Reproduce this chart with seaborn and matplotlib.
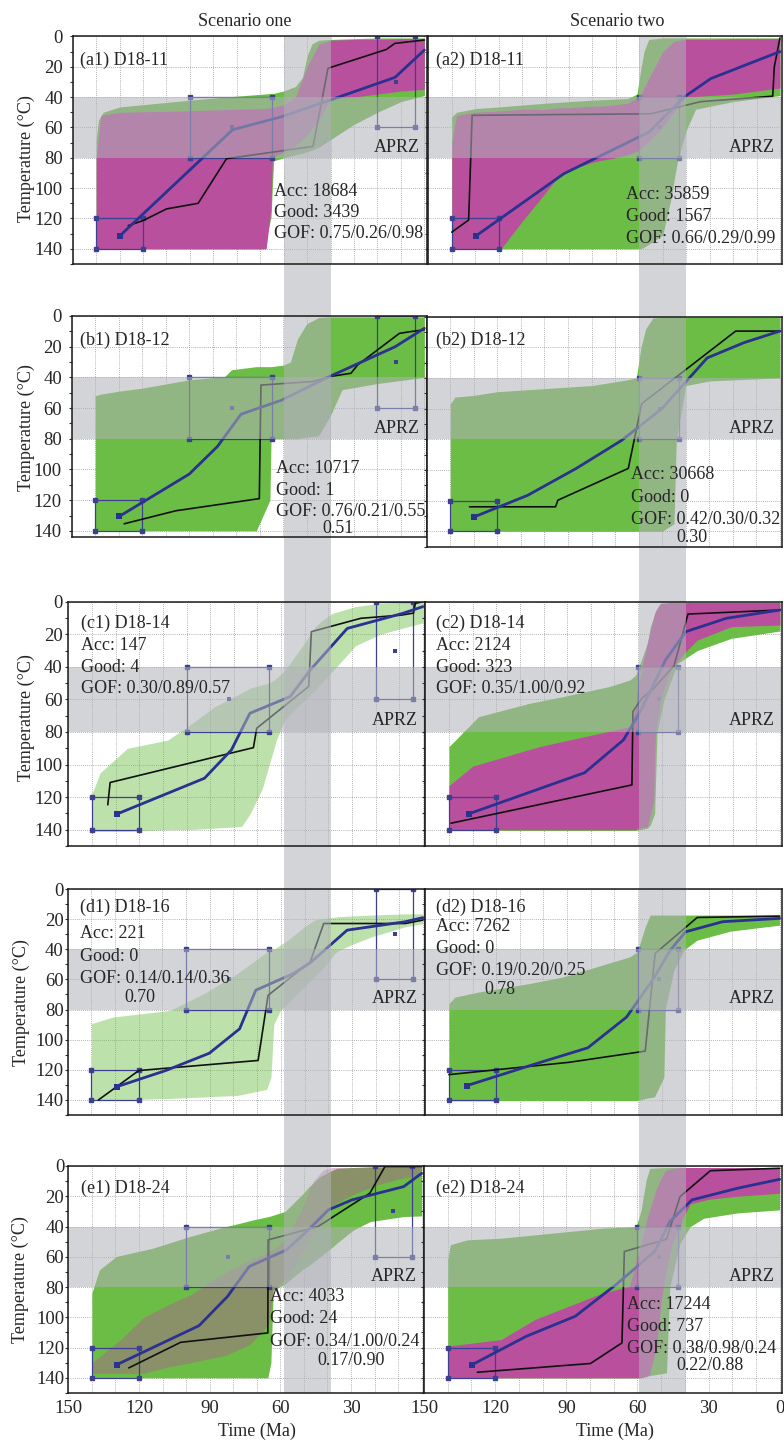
import matplotlib
matplotlib.use("Agg")
import matplotlib.pyplot as plt
import matplotlib.transforms as mtransforms
from matplotlib.patches import Rectangle
from matplotlib.ticker import MultipleLocator, FixedLocator
import seaborn as sns

sns.set_theme(style="white")
plt.rcParams["font.family"] = ["Liberation Serif", "DejaVu Serif"]

# ---------------------------------------------------------------------------
# values: time in Ma, temperature in deg C
# green = acceptable paths envelope, pink = good paths envelope,
# best = best-fit path (black), mean = weighted mean path (blue)
# ---------------------------------------------------------------------------
a1_green_t = [140, 139, 137, 130, 120, 100, 85, 68.5, 65.4, 64.3, 60, 55, 52, 50, 48, 45, 40, 30, 20, 10, 0]
a1_green_top = [68, 55, 50, 46.5, 45, 42, 40, 38, 37.6, 37.5, 36, 33, 27, 13, 5, 2.5, 2, 1.5, 1, 1, 1]
a1_green_bot = [140, 140, 140, 140, 140, 140, 140, 140, 119, 82, 80, 78, 77, 76, 75, 73, 68, 58, 50, 43, 39]
a1_pink_t = [140, 138, 130, 100, 80, 67.5, 65.5, 64.8, 60, 55, 50, 45, 40, 30, 20, 10, 0]
a1_pink_top = [80, 52, 50, 49, 48, 47.5, 47, 47, 45, 40, 20, 5, 2.5, 2, 2, 1.5, 1.5]
a1_pink_bot = [140, 140, 140, 140, 140, 140, 115, 80, 76, 72, 65, 55, 41, 40, 38, 36, 35]
a1_best_t = [126.3, 120, 110, 96.5, 84.4, 47.5, 41.1, 16.2, 12.6, 0]
a1_best_T = [124.7, 121.4, 113.7, 110, 80.6, 72.5, 21, 8.6, 4.6, 2.4]
a1_mean_t = [129.8, 81.8, 61, 39.5, 12.5, 0]
a1_mean_T = [131.3, 61.5, 53, 41.6, 27, 9]

a2_green_t = [140, 138, 130, 120, 100, 80, 65, 61, 59.4, 58, 56, 50, 46.6, 43.7, 40, 36, 20, 0]
a2_green_top = [53, 50, 47.6, 46.5, 44, 42, 41, 38, 22, 10, 2, 1, 1, 1, 1, 1, 1, 1]
a2_green_bot = [140, 140, 140, 140, 140, 140, 140, 140, 140, 139, 137, 131, 108, 82, 62, 48, 43, 39]
a2_pink_t = [140, 138, 130, 119, 110, 100, 93.6, 90, 80, 76.5, 70, 65, 60, 55, 50, 45, 40, 30, 20, 10, 0]
a2_pink_top = [70, 52, 50, 49, 48, 48, 47, 47, 46, 46, 45, 44, 40, 25, 10, 3, 2, 2, 1.5, 1.5, 1.5]
a2_pink_bot = [140, 140, 140, 140, 122, 103, 90.5, 88, 83, 81.7, 80, 78, 75, 68, 60, 50, 40, 39, 38, 36, 34]
a2_best_t = [140, 132.8, 131.3, 55.1, 33.8, 3.1, 2.4, 0]
a2_best_T = [129, 121, 52, 51, 43, 39.4, 20, 1]
a2_mean_t = [129.5, 92.2, 55.8, 40.9, 29.5, 0]
a2_mean_T = [131.3, 90.5, 63, 40, 27.8, 10]

b1_green_t = [140, 138, 130, 120, 100, 85, 82, 71.5, 65.7, 65.2, 60, 57, 54, 50, 45, 40, 35, 20, 10, 0]
b1_green_top = [52, 51, 49, 47, 41.6, 39.5, 35, 33, 33, 33, 32, 30, 15, 5, 1, 0.5, 0.5, 0.5, 0.5, 0.5]
b1_green_bot = [140, 140, 140, 140, 140, 140, 140, 140, 120, 80, 80, 80, 80, 79, 78, 65, 48, 44, 42, 40]
b1_best_t = [127.7, 105.7, 70.2, 69.5, 47.5, 40.4, 31.2, 28.4, 10.6, 5, 0]
b1_best_T = [135.4, 126.9, 119, 45, 42.7, 39.5, 37.3, 31.9, 11.3, 10, 9]
b1_mean_t = [129.8, 100, 88, 78, 61, 40.4, 12.4, 0]
b1_mean_T = [130.6, 103, 85, 64, 55, 39.5, 20, 8]

b2_green_t = [140, 138, 130, 120, 100, 80, 66, 61, 59, 57, 54, 50, 45, 44, 40, 30, 0]
b2_green_top = [57, 52.5, 51.4, 49, 47, 45, 41.6, 40, 20, 8, 1, 0.5, 0.5, 0.5, 0.5, 0.5, 0.5]
b2_green_bot = [140, 140, 140, 140, 140, 140, 140, 140, 140, 140, 140, 140, 135, 80, 45, 42, 40]
b2_best_t = [131.8, 95.3, 94.3, 64.4, 58.7, 18.8, 0]
b2_best_T = [124, 124, 119.7, 99, 56.8, 9.5, 9.5]
b2_mean_t = [129.9, 107.1, 86.5, 67.2, 50.1, 30.9, 15.2, 0]
b2_mean_T = [130.6, 116.5, 99, 80.7, 60, 27, 17, 9.5]

c1_green_t = [140, 136.5, 125, 108, 99.5, 88, 76.7, 73, 68, 65, 62, 58.3, 51.2, 45.5, 43, 38.4, 28.5, 18, 8, 0]
c1_green_top = [118, 105, 90, 85, 76.7, 64.4, 56, 53, 51, 50, 47, 42, 27.6, 15.3, 12, 7.2, 3, 1, 0.5, 0.5]
c1_green_bot = [141, 141, 141, 140, 140, 139, 138, 130, 115, 100, 85, 72, 62, 54, 50, 43, 27, 20, 16, 13]
c1_best_t = [133.3, 132.3, 71.7, 70.3, 48.3, 47.2, 26.3, 9, 4, 3.2, 0]
c1_best_T = [124.7, 111, 89.6, 77.7, 52, 18.4, 10.2, 8.2, 7, 1, 0]
c1_mean_t = [129.3, 92.4, 81, 73.2, 56.2, 47.7, 32, 8.6, 0]
c1_mean_T = [130.3, 108.4, 91, 68.5, 58.3, 42, 16.4, 7.2, 3]

c2_green_t = [140, 127.5, 106, 91.8, 72, 63.4, 61, 59.1, 56, 54.8, 53, 52, 50.5, 49, 43.4, 35, 20.6, 0]
c2_green_top = [89, 70.6, 62.4, 58.3, 52, 48, 45, 37.8, 25, 15.3, 8, 4, 1, 1, 1, 1, 1, 1]
c2_green_bot = [140.5, 140.5, 140.5, 140.5, 140.5, 140.5, 140.5, 140, 139, 137, 130, 81, 70, 60, 38, 30, 22.5, 18]
c2_pink_t = [140, 130, 101.8, 63.4, 61, 60.5, 57.7, 56, 53.4, 52.7, 50.5, 46.3, 40.6, 34.9, 20.6, 0]
c2_pink_top = [113, 101, 89, 76.7, 65, 56, 35.8, 25, 9.2, 6, 1, 0.5, 0.5, 0.5, 0.5, 0.5]
c2_pink_bot = [140, 140, 140, 140, 140, 139.5, 138.5, 138, 121.7, 80.8, 60, 42, 31.7, 23.5, 15.3, 14.3]
c2_best_t = [139.1, 62.6, 62.2, 58.4, 53.4, 47.7, 44.8, 38.9, 0]
c2_best_T = [136, 112.5, 67.5, 59.3, 53.2, 44, 39.5, 7.6, 5.1]
c2_mean_t = [131.7, 82.6, 66.2, 59.1, 48.4, 39.8, 22.7, 0]
c2_mean_T = [130.3, 105, 84.9, 67.5, 35.8, 18.4, 10.2, 5.1]

d1_green_t = [140, 131, 106.8, 92.6, 78.4, 66, 64.2, 64, 63, 60, 57.1, 50, 45.7, 43, 37.3, 35.8, 28.7, 21.6, 7.4, 0]
d1_green_top = [89.4, 85, 80.6, 69.5, 56.1, 42, 40.6, 40.4, 40, 37, 34, 25, 20.6, 19.8, 18.7, 18.4, 17.8, 17.3, 16.5, 16.5]
d1_green_bot = [140, 140, 139, 138, 137, 133, 125, 120, 90, 80, 76, 65, 58, 54, 43, 41, 36, 31.7, 25, 23]
d1_best_t = [137, 120, 69.6, 65.4, 47.6, 41.9, 7.4, 0]
d1_best_T = [140, 120.5, 113.8, 70.6, 48.4, 22.9, 22.9, 20.6]
d1_mean_t = [129.2, 108.6, 90.2, 77.4, 70.6, 54.7, 47.6, 32, 7.4, 0]
d1_mean_T = [131.2, 120.5, 109, 92.8, 67.2, 56.1, 49, 27.3, 21.7, 19]

d2_green_t = [140, 137.4, 127.5, 106.1, 91.8, 77.6, 63.4, 60.5, 59.1, 56.9, 54.8, 53, 49, 48.4, 44.8, 40.6, 35, 21, 0]
d2_green_top = [76, 71.7, 68.4, 62.8, 58.4, 51.7, 45, 42, 36, 25, 17.3, 17.3, 17.3, 17.3, 17.3, 17.3, 17.3, 17.3, 17.3]
d2_green_bot = [140.5, 140.5, 140.5, 140.5, 140.5, 140.5, 140.5, 140.5, 140, 139, 138.5, 138, 125, 80, 54, 40.6, 34, 28, 24]
d2_best_t = [140, 89, 56.9, 52.7, 34.9, 0]
d2_best_T = [123.2, 115, 107.6, 42.8, 18.9, 18]
d2_mean_t = [132.4, 103.2, 81.2, 64.8, 53.4, 46.3, 39.8, 24.1, 0]
d2_mean_T = [130.5, 116, 105.4, 85, 59.5, 40.6, 28.4, 21.7, 19.5]

e1_green_t = [140, 136.8, 129.7, 114.1, 98.5, 85.7, 71.5, 65.3, 64, 63, 58, 57.3, 50.2, 48, 43.1, 37.4, 36, 28.9, 21.8, 7.6, 0]
e1_green_top = [84, 68.6, 59.8, 54.3, 46.6, 41.1, 35.6, 33.5, 33, 32.5, 30, 29, 18, 14, 7, 2.5, 1.5, 1, 0.5, 0.5, 0.5]
e1_green_bot = [140, 140, 140, 140, 140, 140, 140, 140, 130, 82, 78, 77, 68, 66, 60, 53, 51, 42.2, 36.7, 33.4, 33]
e1_pink_t = [140, 128, 118, 108, 98, 83, 73, 65, 63, 56, 50, 46, 42, 38, 28, 18, 8, 0]
e1_pink_top = [130, 115, 100, 92, 85, 70, 62, 57, 55, 45, 25, 10, 3, 1, 1, 1, 1, 1]
e1_pink_bot = [137, 137, 137, 133, 130, 125, 118, 105, 82, 72, 55, 44, 35, 26, 18, 12, 8, 6]
e1_best_t = [124.3, 102.3, 65.3, 65.2, 44, 22, 15.6, 0]
e1_best_T = [133.4, 116.5, 110.3, 48.8, 40, 18, 0.4, 0.4]
e1_mean_t = [129.3, 94.5, 82.4, 73.2, 57.3, 48.1, 39.6, 29.6, 7.6, 0]
e1_mean_T = [131.2, 105.5, 86.2, 66.4, 55.4, 42.2, 29, 22.4, 13.6, 4.8]

e2_green_t = [140, 138.9, 131.8, 117.5, 103.3, 89, 74.8, 60.5, 58.4, 56.3, 54.8, 47.7, 47, 46.3, 42, 37.7, 32, 17.8, 0]
e2_green_top = [62, 52, 48.8, 47.7, 45.5, 43.3, 41.1, 40, 29, 9.2, 1.5, 1, 1, 1, 1, 1, 1, 1, 1]
e2_green_bot = [140, 140, 140, 140, 140, 140, 140, 140, 140, 139, 138.5, 136.7, 106, 79.6, 51, 40, 34.5, 31, 29]
e2_pink_t = [140, 117.5, 103.3, 89, 74.8, 63.4, 60, 59, 56, 55, 52, 50, 48, 45, 42, 41, 37.7, 30, 18, 0]
e2_pink_top = [119, 114.7, 101.5, 92.7, 84, 79.6, 60, 55, 35, 30, 15, 8, 3, 1.5, 1, 1, 1, 1, 1, 1]
e2_pink_bot = [140, 140, 140, 140, 140, 140, 140, 140, 139, 138, 120, 90, 70, 50, 40, 35, 25, 22, 20, 18]
e2_best_t = [127.5, 79.8, 66.5, 65.5, 47.7, 42, 29.2, 0]
e2_best_T = [136.3, 130.5, 116.9, 56.5, 48.4, 20.2, 3.1, 1.5]
e2_mean_t = [129.6, 106.8, 86.2, 69.1, 52.7, 46.3, 37, 17.8, 0]
e2_mean_T = [131.2, 112.5, 99.3, 78.5, 56.5, 36.7, 22.4, 14.7, 8.8]

# constraint boxes (time from/to, temperature from/to) and their centre points
left_box_t = [(140, 120), (100, 65), (20, 4)]
left_box_T = [(120, 140), (40, 80), (0, 60)]
left_dot_t = [82, 12]
left_dot_T = [60, 30]
right_box_t = [(140, 120), (60, 43)]
right_box_T = [(120, 140), (40, 80)]
right_dot_t = [51]
right_dot_T = [60]

aprz = (40, 80)
time_window = (40, 60)

names = {"a1": "(a1) D18-11", "a2": "(a2) D18-11", "b1": "(b1) D18-12", "b2": "(b2) D18-12",
         "c1": "(c1) D18-14", "c2": "(c2) D18-14", "d1": "(d1) D18-16", "d2": "(d2) D18-16",
         "e1": "(e1) D18-24", "e2": "(e2) D18-24"}
stats = {
    "a1": ["Acc: 18684", "Good: 3439", "GOF: 0.75/0.26/0.98"],
    "a2": ["Acc: 35859", "Good: 1567", "GOF: 0.66/0.29/0.99"],
    "b1": ["Acc: 10717", "Good: 1", "GOF: 0.76/0.21/0.55"],
    "b2": ["Acc: 30668", "Good: 0", "GOF: 0.42/0.30/0.32"],
    "c1": ["Acc: 147", "Good: 4", "GOF: 0.30/0.89/0.57"],
    "c2": ["Acc: 2124", "Good: 323", "GOF: 0.35/1.00/0.92"],
    "d1": ["Acc: 221", "Good: 0", "GOF: 0.14/0.14/0.36"],
    "d2": ["Acc: 7262", "Good: 0", "GOF: 0.19/0.20/0.25"],
    "e1": ["Acc: 4033", "Good: 24", "GOF: 0.34/1.00/0.24"],
    "e2": ["Acc: 17244", "Good: 737", "GOF: 0.38/0.98/0.24"],
}
stats_more = {"b1": "0.51", "b2": "0.30", "d1": "0.70", "d2": "0.78", "e1": "0.17/0.90", "e2": "0.22/0.88"}

panels = {
    "a1": dict(green=(a1_green_t, a1_green_top, a1_green_bot), pink=(a1_pink_t, a1_pink_top, a1_pink_bot),
               best=(a1_best_t, a1_best_T), mean=(a1_mean_t, a1_mean_T)),
    "a2": dict(green=(a2_green_t, a2_green_top, a2_green_bot), pink=(a2_pink_t, a2_pink_top, a2_pink_bot),
               best=(a2_best_t, a2_best_T), mean=(a2_mean_t, a2_mean_T)),
    "b1": dict(green=(b1_green_t, b1_green_top, b1_green_bot), pink=None,
               best=(b1_best_t, b1_best_T), mean=(b1_mean_t, b1_mean_T)),
    "b2": dict(green=(b2_green_t, b2_green_top, b2_green_bot), pink=None,
               best=(b2_best_t, b2_best_T), mean=(b2_mean_t, b2_mean_T)),
    "c1": dict(green=(c1_green_t, c1_green_top, c1_green_bot), pink=None,
               best=(c1_best_t, c1_best_T), mean=(c1_mean_t, c1_mean_T)),
    "c2": dict(green=(c2_green_t, c2_green_top, c2_green_bot), pink=(c2_pink_t, c2_pink_top, c2_pink_bot),
               best=(c2_best_t, c2_best_T), mean=(c2_mean_t, c2_mean_T)),
    "d1": dict(green=(d1_green_t, d1_green_top, d1_green_bot), pink=None,
               best=(d1_best_t, d1_best_T), mean=(d1_mean_t, d1_mean_T)),
    "d2": dict(green=(d2_green_t, d2_green_top, d2_green_bot), pink=None,
               best=(d2_best_t, d2_best_T), mean=(d2_mean_t, d2_mean_T)),
    "e1": dict(green=(e1_green_t, e1_green_top, e1_green_bot), pink=(e1_pink_t, e1_pink_top, e1_pink_bot),
               best=(e1_best_t, e1_best_T), mean=(e1_mean_t, e1_mean_T)),
    "e2": dict(green=(e2_green_t, e2_green_top, e2_green_bot), pink=(e2_pink_t, e2_pink_top, e2_pink_bot),
               best=(e2_best_t, e2_best_T), mean=(e2_mean_t, e2_mean_T)),
}

# ---------------------------------------------------------------------------
# layout (pixels on the 784 x 1441 canvas) and styles
# ---------------------------------------------------------------------------
W, H = 784, 1441
axes_px = {  # left, right, top, bottom
    "a1": (72.7, 426.7, 36.4, 264), "a2": (428.3, 782.3, 36.4, 264),
    "b1": (71.7, 426.7, 316, 537), "b2": (426.7, 782.3, 316.5, 546.7),
    "c1": (68.3, 425.3, 601.7, 846), "c2": (425.3, 782.3, 601.7, 846),
    "d1": (67.7, 425.3, 889, 1115), "d2": (425.3, 782, 889, 1115),
    "e1": (68.3, 424, 1166, 1393), "e2": (424, 782, 1166, 1393),
}
ybottom = {"b1": 144}
ytick_pad = {"a": 4.5, "b": 4.5, "c": 1.5, "d": 0.5, "e": 0.5}
sparse = {"c1", "d1"}
sparse_pink = {"e1"}

# text anchors in data units (Ma, degC)
name_xy = {"a1": (146.9, 15.6), "a2": (146.7, 15.6), "b1": (146.5, 15.6), "b2": (146, 15.6),
           "c1": (144.8, 13.3), "c2": (145.5, 13), "d1": (144.8, 12.2), "d2": (145.5, 12),
           "e1": (144.8, 14.7), "e2": (145, 14.7)}
stats_xy = {"a1": (64, [102, 116, 130]), "a2": (65.7, [104.4, 119, 133]),
            "b1": (63, [99.5, 113.5, 127.5]), "b2": (63.4, [103, 118, 132]),
            "c1": (144.5, [27, 40.5, 53]), "c2": (145.5, [27, 40.5, 53]),
            "d1": (144.8, [29.5, 45, 59.5]), "d2": (145.5, [25, 39.5, 54]),
            "e1": (64.5, [86, 101, 116]), "e2": (64.5, [91.6, 106, 120.5])}
more_xy = {"b1": (36.7, 138.5), "b2": (37.2, 144), "d1": (119.4, 72), "d2": (118.4, 67),
           "e1": (30, 128.7), "e2": (29.4, 132)}

GREEN = "#6cbd45"
PINK = "#b8509d"
MEAN = "#2b3190"
BEST = "#111111"
BOX = "#3c4091"
BAND = "#b0b2b8"
BAND_ALPHA = 0.55
FS = 13

fig = plt.figure(figsize=(W / 100, H / 100), dpi=100)
fig.patch.set_facecolor("white")


def px_rect(l, r, t, b):
    return [l / W, 1 - b / H, (r - l) / W, (b - t) / H]


axes = {}
for key, (l, r, t, b) in axes_px.items():
    axes[key] = fig.add_axes(px_rect(l, r, t, b))

for key, ax in axes.items():
    row, col = key[0], key[1]
    d = panels[key]

    # envelopes of the modelled paths
    gt, gtop, gbot = d["green"]
    ax.fill_between(gt, gtop, gbot, color=GREEN, lw=0,
                    alpha=0.45 if key in sparse else 1.0, zorder=1)
    if d["pink"] is not None:
        pt, ptop, pbot = d["pink"]
        ax.fill_between(pt, ptop, pbot, color=PINK, lw=0,
                        alpha=0.4 if key in sparse_pink else 1.0, zorder=1.5)

    # constraint boxes
    bt, bT = (left_box_t, left_box_T) if col == "1" else (right_box_t, right_box_T)
    for (t0, t1), (T0, T1) in zip(bt, bT):
        ax.plot([t0, t1, t1, t0, t0], [T0, T0, T1, T1, T0], color=BOX, lw=0.9, zorder=2.5)
        ax.plot([t0, t1, t1, t0], [T0, T0, T1, T1], ls="none", marker="s", ms=2.2,
                color=BOX, zorder=2.5)
    dt, dT = (left_dot_t, left_dot_T) if col == "1" else (right_dot_t, right_dot_T)
    sns.scatterplot(x=dt, y=dT, marker="s", s=12, color=BOX, linewidth=0, ax=ax, zorder=2.6)

    # best and mean paths
    sns.lineplot(x=d["best"][0], y=d["best"][1], ax=ax, color=BEST, lw=1.2,
                 estimator=None, sort=False, zorder=3)
    sns.lineplot(x=d["mean"][0], y=d["mean"][1], ax=ax, color=MEAN, lw=2.0,
                 estimator=None, sort=False, zorder=3.2)
    sns.scatterplot(x=d["mean"][0][:1], y=d["mean"][1][:1], marker="s", s=22, color=MEAN,
                    linewidth=0, ax=ax, zorder=3.3)

    # APRZ band and the time-window band (aligned with the top panel of the column)
    ax.axhspan(*aprz, color=BAND, alpha=BAND_ALPHA, lw=0, zorder=4)
    ref = axes["a" + col]
    blend = mtransforms.blended_transform_factory(ref.transData, ax.transAxes)
    ax.add_patch(Rectangle((time_window[0], 0), time_window[1] - time_window[0], 1,
                           transform=blend, color=BAND, alpha=BAND_ALPHA, lw=0, zorder=4))

    # texts
    ax.text(*name_xy[key], names[key], fontsize=FS, ha="left", va="center", zorder=6)
    sx, sys_ = stats_xy[key]
    for line, yy in zip(stats[key], sys_):
        ax.text(sx, yy, line, fontsize=FS, ha="left", va="center", zorder=6)
    if key in stats_more:
        ax.text(*more_xy[key], stats_more[key], fontsize=FS, ha="center", va="center", zorder=6)
    ax.text(2, 73, "APRZ", fontsize=FS, ha="right", va="center", zorder=6)

    # axes
    ax.set_xlim(150, -1)
    ax.set_ylim(ybottom.get(key, 150), 0)
    ax.set_xlabel("")
    ax.set_ylabel("")
    if key == "e1":
        ax.xaxis.set_major_locator(FixedLocator([150, 120, 90, 60, 30]))
    else:
        ax.xaxis.set_major_locator(MultipleLocator(30))
    ax.xaxis.set_minor_locator(MultipleLocator(10))
    ax.yaxis.set_major_locator(MultipleLocator(20))
    ax.yaxis.set_minor_locator(MultipleLocator(10))
    ax.set_axisbelow(True)
    ax.grid(axis="x", which="both", color="#9a9a9a", ls=(0, (1, 1.5)), lw=0.6)
    ax.grid(axis="y", which="major", color="#9a9a9a", ls=(0, (1, 1.5)), lw=0.6)
    ax.tick_params(axis="x", which="both", length=0, pad=5, labelsize=13.5,
                   labelbottom=(row == "e"))
    ax.tick_params(axis="y", which="both", direction="out", length=2.5, width=0.8,
                   color="#333333", left=True, pad=ytick_pad[row], labelsize=13.5,
                   labelleft=(col == "1"))
    if col == "1":
        ylabels = ax.get_yticklabels()
        if ylabels:
            ylabels[0].set_va("top")
    for sp in ax.spines.values():
        sp.set_color("#1a1a1a")
        sp.set_linewidth(1.1)
        sp.set_zorder(5)
    ax.set_facecolor("white")

# time window band through the gaps between the panels
for col in "12":
    ref = axes["a" + col]
    top = axes_px["a" + col][2]
    bot = axes_px["e" + col][3]
    blend = mtransforms.blended_transform_factory(ref.transData, fig.transFigure)
    fig.add_artist(Rectangle((time_window[0], 1 - bot / H), time_window[1] - time_window[0],
                             (bot - top) / H, transform=blend, color=BAND, alpha=BAND_ALPHA,
                             lw=0, zorder=-1))

# column titles, axis labels
fig.text(245 / W, 1 - 21 / H, "Scenario one", fontsize=FS, ha="center", va="center")
fig.text(617 / W, 1 - 21 / H, "Scenario two", fontsize=FS, ha="center", va="center")
fig.text(257 / W, 1 - 1431 / H, "Time (Ma)", fontsize=FS, ha="center", va="center")
fig.text(615 / W, 1 - 1431 / H, "Time (Ma)", fontsize=FS, ha="center", va="center")
for xp, yp in zip([26, 26, 26, 21, 20], [159, 428, 718, 1003, 1280]):
    fig.text(xp / W, 1 - yp / H, "Temperature (°C)", fontsize=FS, rotation=90,
             ha="center", va="center")

fig.savefig("out.png", dpi=100, facecolor="white")
